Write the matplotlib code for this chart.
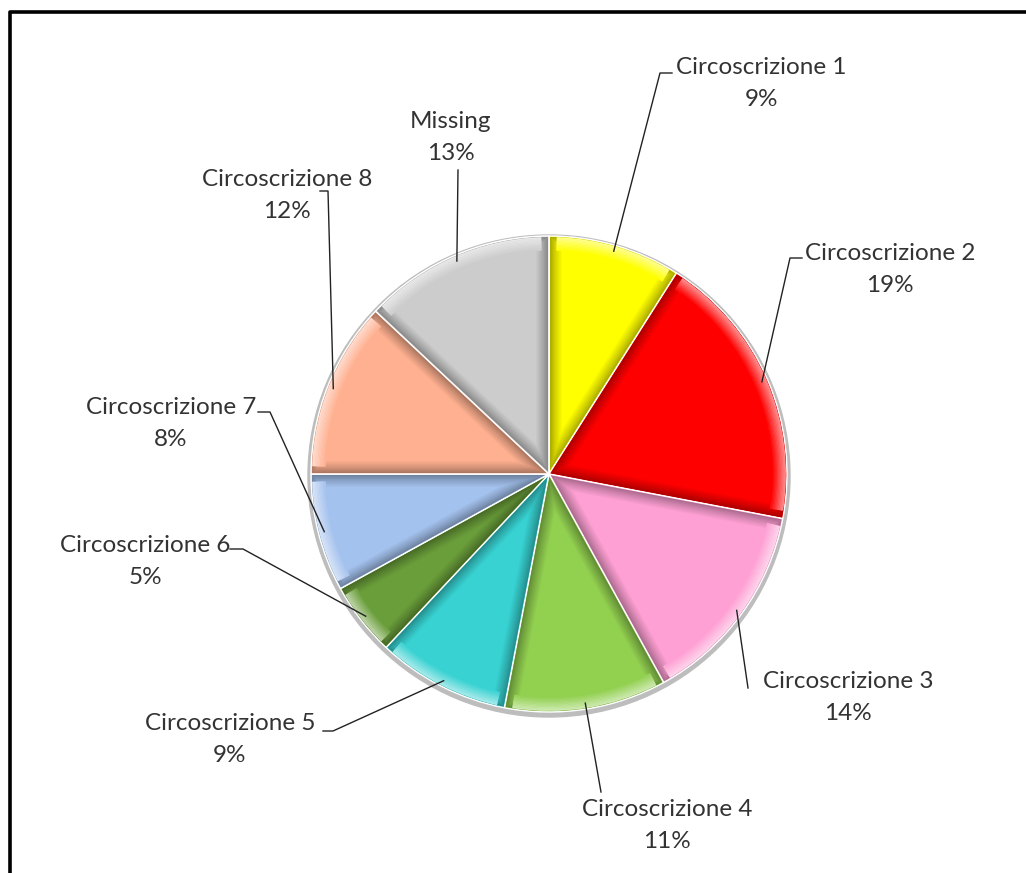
import matplotlib
matplotlib.use("Agg")
import matplotlib.pyplot as plt
import numpy as np
from matplotlib.patches import Polygon, Wedge
from matplotlib.colors import to_rgb

labels = ["Circoscrizione 1", "Circoscrizione 2", "Circoscrizione 3", "Circoscrizione 4",
          "Circoscrizione 5", "Circoscrizione 6", "Circoscrizione 7", "Circoscrizione 8",
          "Missing"]
share = [9, 19, 14, 11, 9, 5, 8, 12, 13]
colors = ["#ffff00", "#ff0000", "#ffa0d4", "#92d050", "#38d2d2",
          "#6a9e3a", "#a4c2ee", "#ffb090", "#cccccc"]

# label text centres (pixels, y down) and leader elbows
text_xy = [(761, 68), (890, 253), (848, 681), (667, 810), (230, 723),
           (145, 546), (171, 408), (287, 179), (451, 122)]
elbow = [[(672, 73), (660, 73)], [(802, 258), (790, 258)], [(748, 688)], [(601, 792)],
         [(323, 731), (333, 731)], [(230, 549), (243, 549)], [(258, 412), (270, 412)],
         [(320, 191), (328, 191)], [(458, 170)]]

W, H = 1026, 873
cx, cy, R = 549, H - 474, 238

fig = plt.figure(figsize=(W / 100, H / 100), dpi=100)
ax = fig.add_axes([0, 0, 1, 1])

# frame (only left and top edges fall inside the picture)
ax.plot([10, 10, W + 5], [-5, H - 12, H - 12], color="black", lw=2.6, solid_capstyle="butt")

# soft shadow ring round the pie
ax.add_patch(plt.Circle((cx, cy - 2), R + 3, color="#bdbdbd", zorder=1))

wedges, _ = ax.pie(share, colors=colors, startangle=90, counterclock=False,
                   center=(cx, cy), radius=R, frame=True,
                   wedgeprops=dict(linewidth=1.0, edgecolor="white"))
ax.set_xlim(0, W)
ax.set_ylim(0, H)
ax.set_aspect("equal")
ax.axis("off")


def shade(c, f):
    c = np.array(to_rgb(c))
    return tuple(np.clip(c * f, 0, 1))


def tint(c, f):
    c = np.array(to_rgb(c))
    return tuple(c + (1 - c) * f)


def mix(a, b, t):
    a, b = np.array(to_rgb(a)), np.array(to_rgb(b))
    return tuple(a + (b - a) * t)


def inset(t1, t2, d):
    half = (t2 - t1) / 2
    mid = t1 + half
    apex_r = d / np.sin(half)
    apex = (cx + apex_r * np.cos(mid), cy + apex_r * np.sin(mid))
    Ri = R - d
    a = np.arcsin(min(d / Ri, 1))
    arc = np.linspace(t1 + a, t2 - a, 80)
    return [apex] + [(cx + Ri * np.cos(t), cy + Ri * np.sin(t)) for t in arc]


# bevel: graded darker rim on the radial edges, lighter rim along the arc
d, n = 13, 10
for w, col in zip(wedges, colors):
    t1, t2 = np.radians(w.theta1), np.radians(w.theta2)
    z = w.get_zorder()
    dark = shade(col, 0.62)
    for k in range(n):
        dk = 1 + d * k / n
        ax.add_patch(Polygon(inset(t1, t2, dk), closed=True,
                             facecolor=mix(dark, col, ((k + 1) / n) ** 0.8), edgecolor="none",
                             zorder=z + 0.1 + k * 0.01))
    arc_off = np.degrees(np.arcsin(d / R))
    for k in range(n):
        r_out = R - 1 - d * k / n
        ax.add_patch(Wedge((cx, cy), r_out, w.theta1 + arc_off * 0.6, w.theta2 - arc_off * 0.6,
                           width=d / n + 0.6, facecolor=tint(col, 0.55 * (1 - k / n)),
                           edgecolor="none", zorder=z + 0.3 + k * 0.01))
    ax.add_patch(Polygon(inset(t1, t2, d + 1), closed=True, facecolor=col,
                         edgecolor="none", zorder=z + 0.5))

# labels and leader lines
for w, lab, v, (tx, ty), el in zip(wedges, labels, share, text_xy, elbow):
    mid = np.radians((w.theta1 + w.theta2) / 2)
    rr = R - 6
    p0 = (cx + rr * np.cos(mid), cy + rr * np.sin(mid))
    path = [p0] + [(x, H - y) for x, y in el[::-1]]
    xs, ys = zip(*path)
    ax.plot(xs, ys, color="#222222", lw=1.0, zorder=5)
    ax.text(tx, H - ty, lab, ha="center", va="center", fontsize=17.5,
            family="Lato", color="#333333", zorder=6)
    ax.text(tx, H - ty - 32, f"{v}%", ha="center", va="center", fontsize=17.5,
            family="Lato", color="#333333", zorder=6)

fig.savefig("out.png", dpi=100, facecolor="white")
